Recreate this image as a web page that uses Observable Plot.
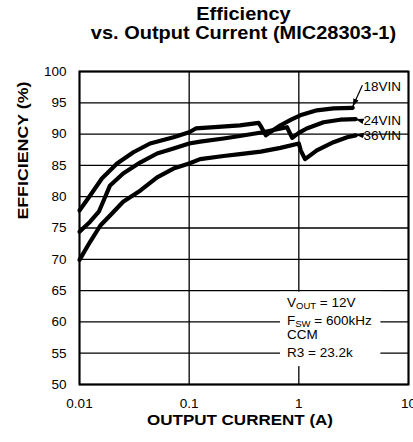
<!DOCTYPE html>
<html><head><meta charset="utf-8">
<script src="https://cdn.jsdelivr.net/npm/d3@7"></script>
<script src="https://cdn.jsdelivr.net/npm/@observablehq/plot@0.6"></script>
<style>
html,body{margin:0;padding:0;background:#fff;overflow:hidden}
body{font-family:"Liberation Sans",Arial,sans-serif;width:413px;height:442px}
#title{box-sizing:border-box;height:44px;padding:5px 5px 0 79px;text-align:center;font-weight:bold;font-size:18px;line-height:18.8px;color:#000}
#title div{transform:scaleX(1.11);white-space:nowrap;height:18.8px}
</style></head><body>
<div id="title"><div>Efficiency</div><div>vs. Output Current (MIC28303-1)</div></div>
<div id="chart"></div>
<script>
// Series data (output current in A, efficiency in %)
const series = ["18VIN", "24VIN", "36VIN"];
const current18 = [0.01, 0.0125, 0.016, 0.022, 0.031, 0.044, 0.072, 0.1, 0.115, 0.17, 0.29, 0.43, 0.445, 0.50, 0.58, 0.68, 0.85, 1.03, 1.46, 2.07, 3.1];
const eff18     = [77.8, 80.2, 82.9, 85.3, 87.1, 88.5, 89.5, 90.3, 90.9, 91.1, 91.4, 91.8, 91.4, 89.8, 90.6, 91.4, 92.3, 93.0, 93.8, 94.1, 94.2];
const current24 = [0.01, 0.0125, 0.015, 0.0166, 0.019, 0.025, 0.036, 0.051, 0.072, 0.1, 0.126, 0.206, 0.29, 0.47, 0.78, 0.80, 0.87, 1.0, 1.18, 1.68, 2.38, 3.3];
const eff24     = [74.4, 76.0, 77.6, 79.4, 81.8, 83.7, 85.5, 86.9, 87.7, 88.5, 88.8, 89.3, 89.7, 90.3, 91.1, 90.7, 89.4, 90.2, 90.9, 91.9, 92.3, 92.4];
const current36 = [0.01, 0.0125, 0.0155, 0.019, 0.025, 0.036, 0.051, 0.072, 0.1, 0.126, 0.206, 0.29, 0.45, 0.68, 1.0, 1.04, 1.14, 1.46, 2.07, 2.76, 3.3];
const eff36     = [69.9, 72.8, 75.4, 77.0, 79.2, 81.0, 83.1, 84.5, 85.3, 86.0, 86.5, 86.8, 87.2, 87.8, 88.5, 87.4, 86.0, 87.4, 88.7, 89.5, 89.8];

// Axis ticks
const xTicks = [0.01, 0.1, 1, 10];
const yTicks = [50, 55, 60, 65, 70, 75, 80, 85, 90, 95, 100];

// Series labels and arrows
const labelX = [3.88, 3.88, 3.88];
const labelY = [97.5, 92.1, 89.8];
const arrowX1 = [3.80, 3.77, 3.77];
const arrowY1 = [97.8, 92.1, 89.8];
const arrowX2 = [3.1, 3.3, 3.3];
const arrowY2 = [94.4, 92.4, 89.9];

// Condition annotation
const noteLines = ["V_{OUT} = 12V", "F_{SW} = 600kHz", "CCM", "R3 = 23.2k"];
const noteX = [0.78, 0.78, 0.78, 0.78];
const noteY = [63.05, 60.2, 57.95, 55.1];
const noteBox = [{x1: 0.68, x2: 5.6, y1: 52.85, y2: 64.75}];

const data = [];
[[current18, eff18], [current24, eff24], [current36, eff36]].forEach(([xs, ys], k) => {
  xs.forEach((x, i) => data.push({series: series[k], current: x, eff: ys[i]}));
});
const labels = series.map((s, i) => ({s, x: labelX[i], y: labelY[i]}));
const arrows = series.map((s, i) => ({x1: arrowX1[i], y1: arrowY1[i], x2: arrowX2[i], y2: arrowY2[i]}));
const notes = noteLines.map((t, i) => ({t, x: noteX[i], y: noteY[i]}));

const font = "'Liberation Sans', Arial, sans-serif";
const chart = Plot.plot({
  width: 413,
  height: 398,
  marginLeft: 79,
  marginRight: 5,
  marginTop: 27,
  marginBottom: 58,
  style: {fontSize: "13.5px", fontFamily: font, color: "#000", background: "#fff", overflow: "visible"},
  x: {type: "log", domain: [0.01, 10], ticks: xTicks, tickFormat: d => String(d), tickSize: 0, tickPadding: 14, label: null},
  y: {domain: [50, 100], ticks: yTicks, tickSize: 0, tickPadding: 13, label: null},
  marks: [
    Plot.ruleY(yTicks, {stroke: "#000", strokeWidth: 1.3}),
    Plot.ruleX(xTicks, {stroke: "#000", strokeWidth: 1.3}),
    Plot.rect(noteBox, {x1: "x1", x2: "x2", y1: "y1", y2: "y2", fill: "#fff"}),
    Plot.frame({stroke: "#000", strokeWidth: 2}),
    Plot.line(data, {x: "current", y: "eff", z: "series", stroke: "#000", strokeWidth: 4.2, strokeLinejoin: "round", strokeLinecap: "round"}),
    Plot.link(arrows, {x1: "x1", y1: "y1", x2: "x2", y2: "y2", stroke: "#000", strokeWidth: 1.2, markerEnd: "arrow"}),
    Plot.text(labels, {x: "x", y: "y", text: "s", textAnchor: "start", fontSize: 13.5}),
    Plot.text(notes, {x: "x", y: "y", text: "t", textAnchor: "start", fontSize: 13.5}),
    Plot.text(["OUTPUT CURRENT (A)"], {frameAnchor: "bottom", dy: 40, dx: -4, fontWeight: "bold", fontSize: 14.5}),
    Plot.text(["EFFICIENCY (%)"], {frameAnchor: "left", dx: -56.5, dy: -8.4, rotate: -90, fontWeight: "bold", fontSize: 14.5})
  ]
});
document.getElementById("chart").appendChild(chart);

// Post-process: subscripts, stretched axis titles, filled arrowheads
const ns = "http://www.w3.org/2000/svg";
chart.querySelectorAll("text").forEach(t => {
  const s = t.textContent;
  if (s === "OUTPUT CURRENT (A)") { t.setAttribute("textLength", "186"); t.setAttribute("lengthAdjust", "spacingAndGlyphs"); }
  if (s === "EFFICIENCY (%)") { t.setAttribute("textLength", "138"); t.setAttribute("lengthAdjust", "spacingAndGlyphs"); }
  const m = s.match(/^(.*)_\{(.*)\}(.*)$/);
  if (!m || t.children.length) return;
  t.textContent = "";
  const a = document.createElementNS(ns, "tspan"); a.textContent = m[1];
  const b = document.createElementNS(ns, "tspan"); b.textContent = m[2];
  b.setAttribute("font-size", "9.5"); b.setAttribute("dy", "2");
  const c = document.createElementNS(ns, "tspan"); c.textContent = m[3]; c.setAttribute("dy", "-2");
  t.append(a, b, c);
});
chart.querySelectorAll("marker").forEach(mk => {
  mk.setAttribute("viewBox", "-10 -5 10 10");
  mk.setAttribute("markerUnits", "userSpaceOnUse");
  mk.setAttribute("markerWidth", "8");
  mk.setAttribute("markerHeight", "8");
  mk.setAttribute("fill", "#000");
  mk.setAttribute("stroke", "none");
  mk.querySelectorAll("path").forEach(p => p.setAttribute("d", "M-10,-3.5L0,0L-10,3.5Z"));
});
</script>
</body></html>
